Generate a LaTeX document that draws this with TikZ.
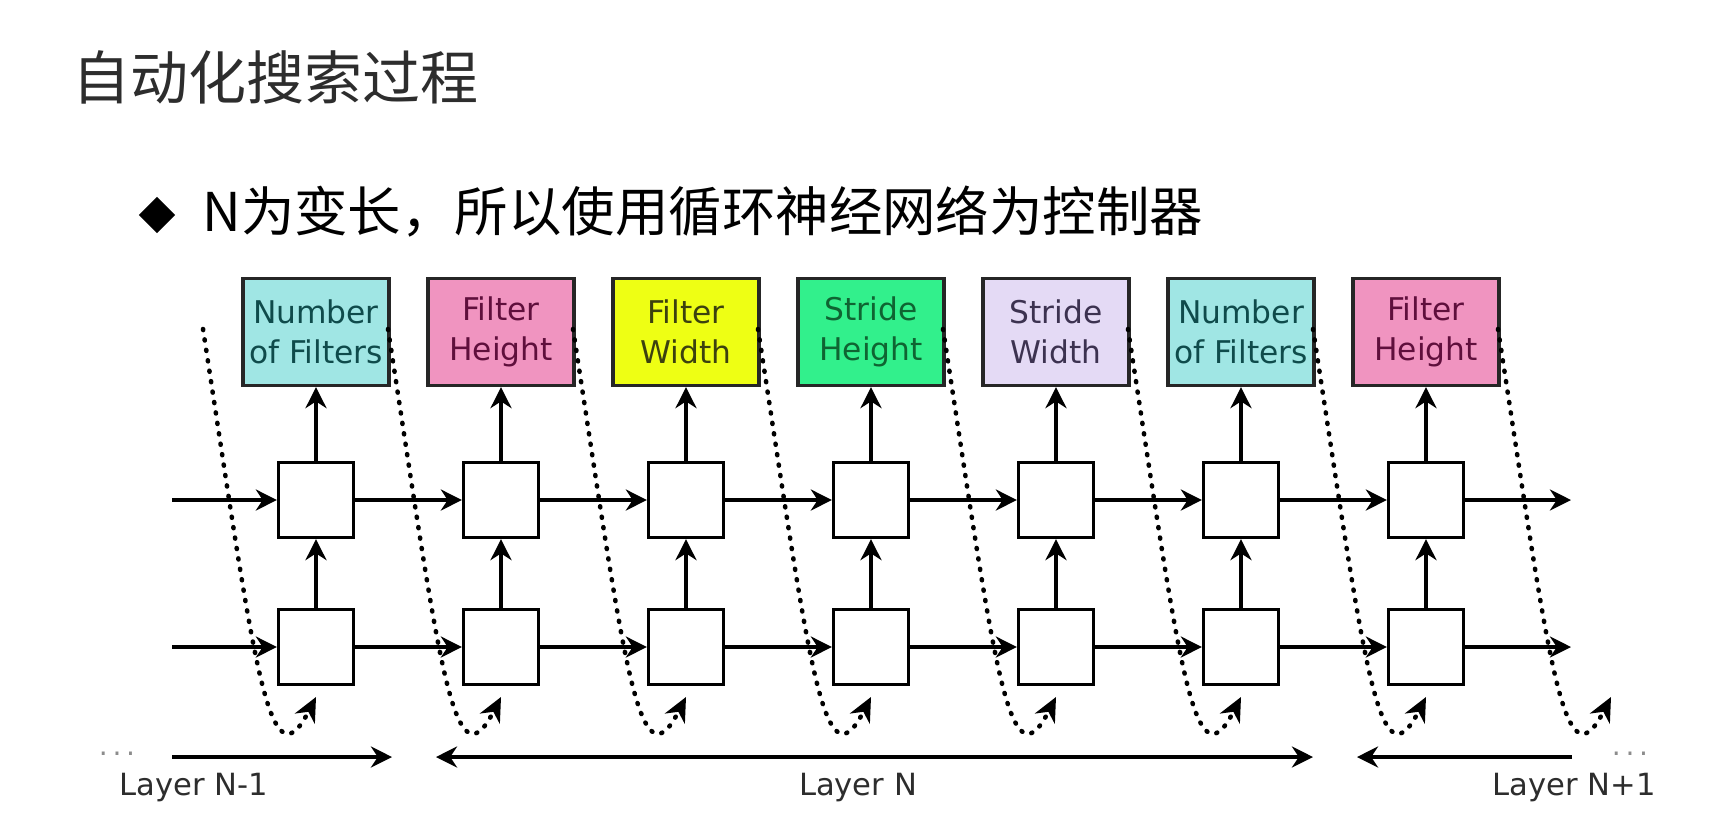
\documentclass[tikz,border=0pt]{standalone}
\usepackage{fontspec}
\setmainfont{DejaVu Sans}
\newfontfamily\cjk{Noto Sans CJK SC}
\usetikzlibrary{arrows.meta,shapes.geometric}
\definecolor{cyanbox}{RGB}{160,230,228}
\definecolor{cyantext}{RGB}{15,75,75}
\definecolor{pinkbox}{RGB}{240,148,192}
\definecolor{pinktext}{RGB}{95,15,60}
\definecolor{yellowbox}{RGB}{238,255,20}
\definecolor{yellowtext}{RGB}{60,65,15}
\definecolor{greenbox}{RGB}{50,240,140}
\definecolor{greentext}{RGB}{15,100,50}
\definecolor{lilacbox}{RGB}{228,218,245}
\definecolor{lilactext}{RGB}{60,50,80}
\definecolor{titlegray}{RGB}{45,45,45}
\tikzset{
  param/.style={draw=black!85,line width=0.9pt,minimum width=1.46cm,
    minimum height=1.07cm,inner sep=0pt,align=center,
    font=\fontsize{8.9}{11.2}\selectfont},
  cell/.style={draw,fill=white,line width=0.9pt,minimum size=0.75cm,inner sep=0pt},
  flow/.style={->,line width=0.9pt},
  loopback/.style={-{Stealth[length=7pt,width=6.5pt,line width=0pt]},line width=1.3pt,
    dash pattern=on 0.3pt off 2.7pt,line cap=round},
  layerlab/.style={text=titlegray,font=\fontsize{8.7}{10}\selectfont}
}
\begin{document}
\begin{tikzpicture}[x=0.01cm,y=-0.01cm,>={Stealth[length=6pt,width=6pt]}]
  \useasboundingbox (0,0) rectangle (1720,814);
  \fill[white] (0,0) rectangle (1720,814);
  \node[anchor=west,text=titlegray,font=\cjk\fontsize{16.5}{20}\selectfont]
    (title) at (60,77) {自动化搜索过程};
  \node[diamond,fill=black,inner sep=0pt,minimum size=0.37cm] (bullet) at (157,215) {};
  \node[anchor=west,font=\cjk\fontsize{15.2}{18}\selectfont]
    (point) at (190,212) {N为变长，所以使用循环神经网络为控制器};
  \foreach \i/\fc/\tc/\lab in {1/cyanbox/cyantext/{Number\\of Filters},
      2/pinkbox/pinktext/{Filter\\Height},3/yellowbox/yellowtext/{Filter\\Width},
      4/greenbox/greentext/{Stride\\Height},5/lilacbox/lilactext/{Stride\\Width},
      6/cyanbox/cyantext/{Number\\of Filters},7/pinkbox/pinktext/{Filter\\Height}}
  {
    \pgfmathsetmacro\x{131+185*\i}
    \node[param,fill=\fc,text=\tc] (p\i) at (\x,332) {\lab};
    \node[cell] (h\i) at (\x,500) {};
    \node[cell] (l\i) at (\x,647) {};
    \draw[flow] (l\i) -- (h\i);
    \draw[flow] (h\i) -- (p\i);
  }
  \coordinate (hin) at (172,500);
  \coordinate (lin) at (172,647);
  \coordinate (hout) at (1571,500);
  \coordinate (lout) at (1571,647);
  \draw[flow] (hin) -- (h1);
  \draw[flow] (lin) -- (l1);
  \foreach \i [evaluate=\i as \j using int(\i-1)] in {2,...,7} {
    \draw[flow] (h\j) -- (h\i);
    \draw[flow] (l\j) -- (l\i);
  }
  \draw[flow] (h7) -- (hout);
  \draw[flow] (l7) -- (lout);
  \foreach \i in {1,...,8} {
    \pgfmathsetmacro\x{131+185*\i}
    \coordinate (s\i) at (\x-113,329);
    \coordinate (e\i) at (\x,697);
    \draw[loopback] (s\i) .. controls (\x-62,660) and (\x-48,790) .. (e\i);
  }
  \coordinate (a1) at (172,757);
  \coordinate (a2) at (392,757);
  \coordinate (b1) at (436,757);
  \coordinate (b2) at (1313,757);
  \coordinate (c1) at (1572,757);
  \coordinate (c2) at (1357,757);
  \draw[flow] (a1) -- (a2);
  \draw[<->,line width=0.9pt] (b1) -- (b2);
  \draw[flow] (c1) -- (c2);
  \node[text=black!45,font=\fontsize{8}{8}\selectfont] (leftdots) at (117,754) {.\,.\,.};
  \node[text=black!45,font=\fontsize{8}{8}\selectfont] (rightdots) at (1630,754) {.\,.\,.};
  \node[layerlab] (layerprev) at (194,788) {Layer N-1};
  \node[layerlab] (layercur) at (858,788) {Layer N};
  \node[layerlab] (layernext) at (1574,788) {Layer N+1};
\end{tikzpicture}
\end{document}
